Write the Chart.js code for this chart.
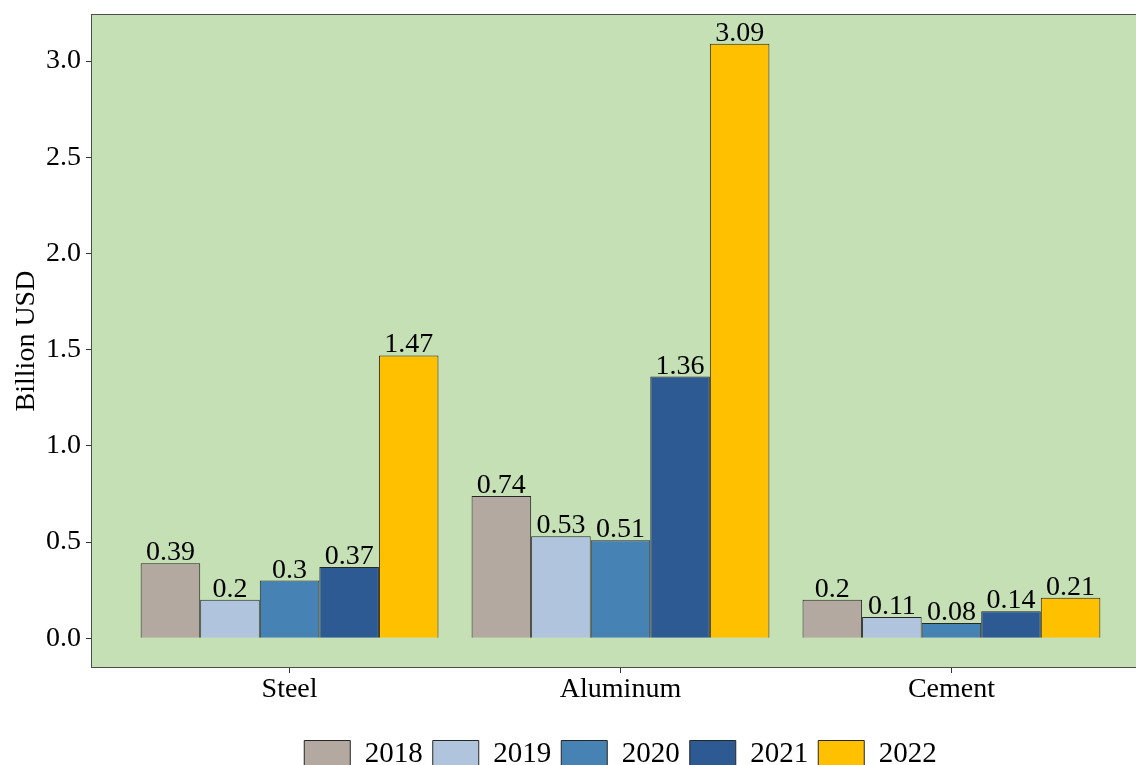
<!DOCTYPE html>
<html>
<head>
<meta charset="utf-8">
<script src="https://cdn.jsdelivr.net/npm/chart.js@4.4.1/dist/chart.umd.min.js"></script>
<style>
  html, body { margin: 0; padding: 0; overflow: hidden; background: #fff; }
  canvas { display: block; }
</style>
</head>
<body>
<canvas id="myCanvas" width="1150" height="780"></canvas>
<script>
// values (billion USD)
const categories = ['Steel', 'Aluminum', 'Cement'];
const years = ['2018', '2019', '2020', '2021', '2022'];
const v2018 = [0.39, 0.74, 0.2];
const v2019 = [0.2, 0.53, 0.11];
const v2020 = [0.3, 0.51, 0.08];
const v2021 = [0.37, 1.36, 0.14];
const v2022 = [1.47, 3.09, 0.21];
const yTicks = [0, 0.5, 1.0, 1.5, 2.0, 2.5, 3.0];

const colors = ['#B3A9A0', '#B0C4DE', '#4682B4', '#2E5A94', '#FFC000'];
const FONT = 'Liberation Serif';

const series = [v2018, v2019, v2020, v2021, v2022];

// panel background + border
const panelBg = {
    id: 'panelBg',
    beforeDraw(chart) {
        const a = chart.chartArea, c = chart.ctx;
        c.save();
        c.fillStyle = '#C5E0B4';
        c.fillRect(a.left, a.top, a.right - a.left, a.bottom - a.top);
        c.strokeStyle = '#4d4d4d';
        c.lineWidth = 1;
        c.strokeRect(a.left + 0.5, a.top + 0.5, a.right - a.left, a.bottom - a.top - 1);
        c.restore();
    }
};

// numbers on top of bars
const barLabels = {
    id: 'barLabels',
    afterDatasetsDraw(chart) {
        const c = chart.ctx;
        c.save();
        c.font = '28px "' + FONT + '"';
        c.fillStyle = '#000';
        c.textAlign = 'center';
        c.textBaseline = 'alphabetic';
        chart.data.datasets.forEach((ds, i) => {
            chart.getDatasetMeta(i).data.forEach((bar, j) => {
                c.fillText(String(series[i][j]), bar.x, bar.y - 3);
            });
        });
        c.restore();
    }
};

document.addEventListener('DOMContentLoaded', () => {
    const ctx = document.getElementById('myCanvas').getContext('2d');

    const data = {
        datasets: years.map((yr, i) => ({
            label: yr,
            data: series[i].map((v, j) => ({ x: j + 1, y: v })),
            backgroundColor: colors[i],
            borderColor: '#262626',
            borderWidth: 1,
            barPercentage: 1.0,
            categoryPercentage: 0.9
        }))
    };

    const config = {
        type: 'bar',
        data: data,
        plugins: [panelBg, barLabels],
        options: {
            responsive: false,
            animation: false,
            layout: { padding: { top: 14, left: 0, right: 0, bottom: 1 } },
            plugins: {
                tooltip: { enabled: false },
                legend: {
                    position: 'bottom',
                    fullSize: false,
                    labels: {
                        color: '#000',
                        font: { family: FONT, size: 29 },
                        boxWidth: 46,
                        boxHeight: 28,
                        padding: 10
                    }
                }
            },
            scales: {
                x: {
                    type: 'linear',
                    min: 0.4,
                    max: 3.6,
                    offset: false,
                    border: { display: false },
                    grid: { display: true, offset: false, drawOnChartArea: false, drawTicks: true, tickLength: 5, color: '#333' },
                    ticks: {
                        color: '#000',
                        font: { family: FONT, size: 28 },
                        padding: 0,
                        maxRotation: 0,
                        callback: (v) => categories[v - 1]
                    },
                    afterBuildTicks: (scale) => {
                        scale.ticks = categories.map((c, i) => ({ value: i + 1 }));
                    },
                    afterFit: (scale) => {
                        scale.height = 62;
                        scale.paddingLeft = 0;
                        scale.paddingRight = 0;
                    }
                },
                y: {
                    min: -0.1545,
                    max: 3.2445,
                    border: { display: false },
                    grid: { display: true, drawOnChartArea: false, drawTicks: true, tickLength: 5, color: '#333' },
                    ticks: {
                        color: '#000',
                        font: { family: FONT, size: 28 },
                        padding: 5,
                        callback: (v) => v.toFixed(1)
                    },
                    afterBuildTicks: (scale) => {
                        scale.ticks = yTicks.map(v => ({ value: v }));
                    },
                    afterFit: (scale) => {
                        scale.width = 91;
                        scale.paddingTop = 0;
                        scale.paddingBottom = 0;
                    },
                    title: {
                        display: true,
                        text: 'Billion USD',
                        color: '#000',
                        font: { family: FONT, size: 28 },
                        padding: { top: 10, bottom: 0 }
                    }
                }
            }
        }
    };

    const myChart = new Chart(ctx, config);
});
</script>
</body>
</html>
